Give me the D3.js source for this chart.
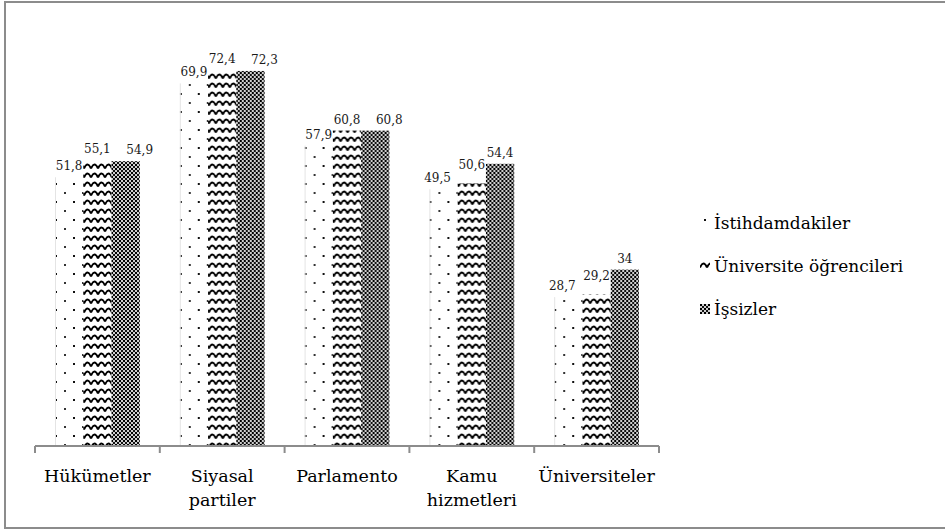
<!DOCTYPE html>
<html lang="tr">
<head>
<meta charset="UTF-8" />
<title>Güven grafiği</title>
<script src="https://d3js.org/d3.v7.min.js"></script>
<style>
  body { margin: 0; background: #fff; }
  svg { display: block; font-family: "DejaVu Serif", serif; }
  .val { font-size: 12px; fill: #1a1a1a; }
  .cat { font-size: 17.5px; fill: #000; }
  .leg { font-size: 17px; fill: #000; }
</style>
</head>
<body>
<svg id="chart" width="945" height="532"></svg>
<script>
// categories and series
const categories = ["Hükümetler", "Siyasal partiler", "Parlamento", "Kamu hizmetleri", "Üniversiteler"];
const catLines = [["Hükümetler"], ["Siyasal", "partiler"], ["Parlamento"], ["Kamu", "hizmetleri"], ["Üniversiteler"]];
const seriesNames = ["İstihdamdakiler", "Üniversite öğrencileri", "İşsizler"];
const istihdam = [51.8, 69.9, 57.9, 49.5, 28.7];
const ogrenci = [55.1, 72.4, 60.8, 50.6, 29.2];
const issiz = [54.9, 72.3, 60.8, 54.4, 34];
const seriesValues = [istihdam, ogrenci, issiz];
const patternIds = ["pDots", "pWave", "pCheck"];

const svg = d3.select("#chart");

// patterns
const defs = svg.append("defs");
const dots = defs.append("pattern").attr("id", "pDots")
  .attr("patternUnits", "userSpaceOnUse").attr("width", 18).attr("height", 18)
  .attr("x", 1);
dots.append("rect").attr("width", 18).attr("height", 18).attr("fill", "#fff");
dots.append("rect").attr("x", 1).attr("y", 3).attr("width", 2).attr("height", 2).attr("fill", "#111");
dots.append("rect").attr("x", 10).attr("y", 12).attr("width", 2).attr("height", 2).attr("fill", "#333");

const wave = defs.append("pattern").attr("id", "pWave")
  .attr("patternUnits", "userSpaceOnUse").attr("width", 14).attr("height", 9);
wave.append("rect").attr("width", 14).attr("height", 9).attr("fill", "#fff");
wave.append("path").attr("d", "M0,6.5 Q3.5,-1.5 7,6.5 M7,6.5 Q10.5,-1.5 14,6.5")
  .attr("fill", "none").attr("stroke", "#000").attr("stroke-width", 1.9);

const check = defs.append("pattern").attr("id", "pCheck")
  .attr("patternUnits", "userSpaceOnUse").attr("width", 4).attr("height", 4);
check.append("rect").attr("width", 4).attr("height", 4).attr("fill", "#cfcfcf");
check.append("rect").attr("width", 2).attr("height", 2).attr("fill", "#000");
check.append("rect").attr("x", 2).attr("y", 2).attr("width", 2).attr("height", 2).attr("fill", "#111");

// frame
svg.append("rect").attr("x", 5).attr("y", 2).attr("width", 945).attr("height", 526)
  .attr("fill", "none").attr("stroke", "#8c8c8c").attr("stroke-width", 2);

// scales
const x0 = d3.scaleBand().domain(categories).range([35, 659]).padding(0);
const x1 = d3.scaleBand().domain(d3.range(3)).range([20, x0.bandwidth() - 20]).padding(0);
const y = d3.scaleLinear().domain([0, 80]).range([446, 31]);

// bars
const groups = svg.append("g").selectAll("g").data(categories).join("g")
  .attr("transform", d => `translate(${x0(d)},0)`);

groups.each(function (c, ci) {
  const g = d3.select(this);
  seriesValues.forEach((vals, si) => {
    const v = vals[ci];
    g.append("rect")
      .attr("x", x1(si)).attr("y", y(v))
      .attr("width", x1.bandwidth()).attr("height", y(0) - y(v))
      .attr("fill", `url(#${patternIds[si]})`);
    if (si === 0) {
      g.append("line").attr("x1", x1(si) + 0.5).attr("x2", x1(si) + 0.5)
        .attr("y1", y(v)).attr("y2", y(0)).attr("stroke", "#e4e4e4").attr("stroke-width", 1);
    }
  });

  // data labels, nudged apart when two neighbours collide
  const labels = seriesValues.map((vals, si) => ({
    v: vals[ci],
    cx: x1(si) + x1.bandwidth() / 2,
    by: y(vals[ci]) - 7
  }));
  for (let i = 1; i < labels.length; i++) {
    const a = labels[i - 1], b = labels[i];
    if (Math.abs(a.by - b.by) < 11) {
      if (i === labels.length - 1) b.cx += 14;
      else { b.by -= 8; a.cx -= 6; }
    }
  }
  g.selectAll("text.val").data(labels).join("text").attr("class", "val")
    .attr("x", d => d.cx).attr("y", d => d.by)
    .attr("text-anchor", "middle")
    .text(d => String(d.v).replace(".", ","));
});

// x axis
const axis = svg.append("g").attr("transform", `translate(0,${y(0)})`);
axis.append("line").attr("x1", 35).attr("x2", 659).attr("y1", 0).attr("y2", 0)
  .attr("stroke", "#8c8c8c").attr("stroke-width", 2);
const tickPos = categories.map(c => x0(c)).concat([x0(categories[categories.length - 1]) + x0.bandwidth()]);
axis.selectAll("line.tick").data(tickPos).join("line").attr("class", "tick")
  .attr("x1", d => d).attr("x2", d => d).attr("y1", 0).attr("y2", 7)
  .attr("stroke", "#8c8c8c").attr("stroke-width", 2);

categories.forEach((c, i) => {
  const t = axis.append("text").attr("class", "cat").attr("text-anchor", "middle")
    .attr("x", x0(c) + x0.bandwidth() / 2).attr("y", 36);
  catLines[i].forEach((ln, li) => {
    t.append("tspan").attr("x", x0(c) + x0.bandwidth() / 2).attr("dy", li === 0 ? 0 : 24).text(ln);
  });
});

// legend
const legY = [229, 272, 315];
const leg = svg.append("g");
seriesNames.forEach((s, i) => {
  leg.append("rect").attr("x", 700).attr("y", legY[i] - 11).attr("width", 10).attr("height", 10)
    .attr("fill", `url(#${patternIds[i]})`);
  leg.append("text").attr("class", "leg").attr("x", 714).attr("y", legY[i]).text(s);
});
</script>
</body>
</html>
